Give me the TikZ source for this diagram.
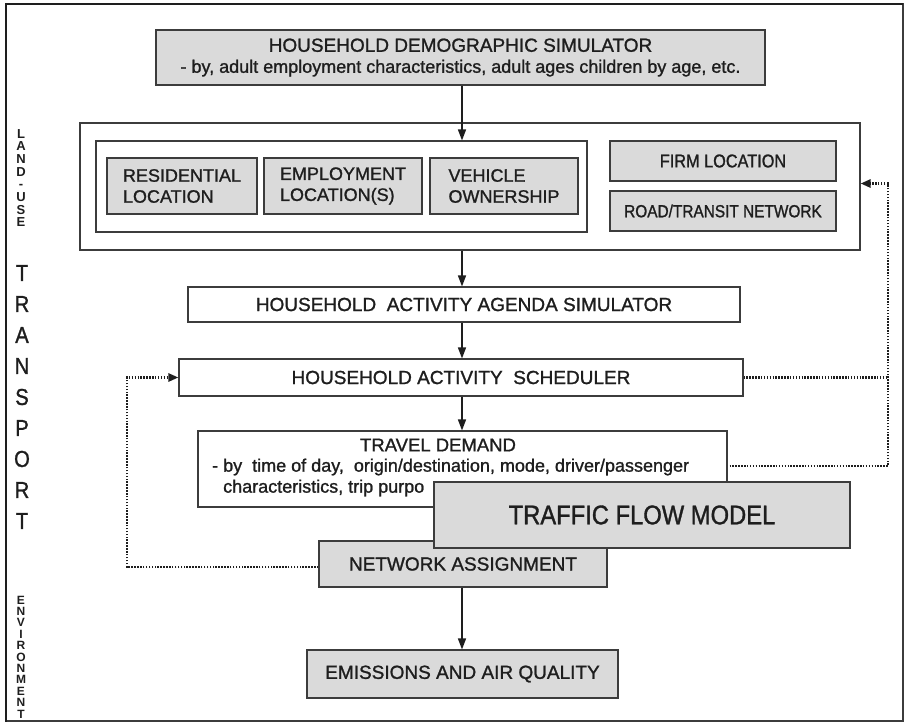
\documentclass[tikz,border=0pt]{standalone}
\usepackage{fontspec}
\setmainfont{Liberation Sans}[FakeBold=1.2]
\newfontfamily\narrowfont{Liberation Sans}[FakeStretch=0.88,FakeBold=1.2]
\newfontfamily\sidefont{Liberation Sans Bold}
\usetikzlibrary{arrows.meta,calc}
\definecolor{boxgray}{RGB}{218,218,218}
\definecolor{ink}{RGB}{30,30,30}
\definecolor{edge}{RGB}{60,60,60}
\tikzset{
  graybox/.style={draw=edge,line width=1.1pt,fill=boxgray,rectangle,inner sep=0pt,text=ink},
  whitebox/.style={draw=edge,line width=1.1pt,fill=white,rectangle,inner sep=0pt,text=ink},
  frame/.style={draw=edge,line width=1.1pt,rectangle,inner sep=0pt},
  arr/.style={draw=ink,line width=1.4pt,-{Triangle[length=11pt,width=8pt]}},
  dots/.style={draw=ink,line width=2.6pt,dash pattern=on 1.5pt off 1.4pt},
  dotarr/.style={dots,-{Triangle[length=10pt,width=8pt]}},
  txt/.style={font=\fontsize{18}{21}\selectfont},
  txtb/.style={font=\fontsize{19}{22}\selectfont},
  vert/.style={inner sep=0pt,align=center,text=ink}
}
\begin{document}
\begin{tikzpicture}[x=1pt,y=-1pt]
\useasboundingbox (0,0) rectangle (906,724);
% outer frame
\draw[draw=edge,line width=1.2pt] (6,4) rectangle (903,721);
\draw[draw=ink,line width=2.4pt] (6,3) -- (6,722);
\draw[draw=ink,line width=2pt] (5,4) -- (903,4);
% spine and return coordinates
\coordinate (spine) at (462,0);
\coordinate (rx) at (888,0);
\coordinate (lx) at (127,0);
% nodes
\node[graybox,minimum width=609pt,minimum height=55pt,align=center,txt] (top) at (460.5,57.5)
  {{\fontsize{19}{22}\selectfont HOUSEHOLD DEMOGRAPHIC SIMULATOR}\\- by, adult employment characteristics, adult ages children by age, etc.};
\node[frame,minimum width=780pt,minimum height=127pt] (landuse) at (470,186.5) {};
\node[frame,minimum width=491pt,minimum height=91pt] (inner) at (341.5,186.5) {};
\node[graybox,minimum width=150pt,minimum height=56pt,align=left,txt] (res) at (182,186) {RESIDENTIAL\\LOCATION};
\node[graybox,minimum width=158pt,minimum height=56pt,align=left,txt] (emp) at (343,186) {EMPLOYMENT\\LOCATION(S)};
\node[graybox,minimum width=148pt,minimum height=56pt,align=left,txt] (veh) at (504,186) {VEHICLE\\OWNERSHIP};
\node[graybox,minimum width=226pt,minimum height=40pt,font=\narrowfont\fontsize{18.5}{21}\selectfont] (firm) at (723,161) {FIRM LOCATION};
\node[graybox,minimum width=226pt,minimum height=40pt,font=\narrowfont\fontsize{17.5}{21}\selectfont] (road) at (723,211) {ROAD/TRANSIT NETWORK};
\node[whitebox,minimum width=552pt,minimum height=35pt,txtb] (agenda) at (464,304.5) {HOUSEHOLD\ \ ACTIVITY AGENDA SIMULATOR};
\node[whitebox,minimum width=564pt,minimum height=37pt,txtb] (sched) at (461,377.5) {HOUSEHOLD ACTIVITY\ \ SCHEDULER};
\node[whitebox,minimum width=529pt,minimum height=76pt] (travel) at (462.5,469) {};
\node[inner sep=0pt,font=\fontsize{18.5}{21}\selectfont,text=ink] (tdhead) at (438,445) {TRAVEL DEMAND};
\node[inner sep=0pt,txt,text=ink,anchor=west] (tdl1) at (212,467) {- by\ \ time of day,\ \ origin/destination, mode, driver/passenger};
\node[inner sep=0pt,txt,text=ink,anchor=west] (tdl2) at (223,488) {characteristics, trip purpo};
\node[graybox,minimum width=288pt,minimum height=46pt,txtb] (network) at (463,564) {NETWORK ASSIGNMENT};
\node[graybox,minimum width=416pt,minimum height=66pt,font=\narrowfont\fontsize{27}{30}\selectfont] (traffic) at (642,515) {TRAFFIC FLOW MODEL};
\node[graybox,minimum width=311pt,minimum height=48pt,txtb] (emis) at (462.5,674) {EMISSIONS AND AIR QUALITY};
% side labels
\node[vert,font=\sidefont\fontsize{13}{12.7}\selectfont] (lu) at (21,178) {L\\A\\N\\D\\-\\U\\S\\E};
\node[vert,font=\narrowfont\fontsize{23}{31}\selectfont] (tr) at (22,397) {T\\R\\A\\N\\S\\P\\O\\R\\T};
\node[vert,font=\sidefont\fontsize{12}{11.4}\selectfont] (env) at (21,657) {E\\N\\V\\I\\R\\O\\N\\M\\E\\N\\T};
% solid arrows
\draw[arr] (spine |- top.south) -- (spine |- inner.north);
\draw[arr] (spine |- landuse.south) -- (spine |- agenda.north);
\draw[arr] (spine |- agenda.south) -- (spine |- sched.north);
\draw[arr] (spine |- sched.south) -- (spine |- travel.north);
\draw[arr] (spine |- network.south) -- (spine |- emis.north);
% dotted feedback
\draw[dots] (sched.east) -- (sched.east -| rx);
\draw[dotarr] ($(travel.east)+(2,-3)$) -- ($(travel.east -| rx)+(0,-3)$) -- ($(rx |- landuse.east)+(0,-3)$) -- ($(landuse.east)+(0,-3)$);
\draw[dotarr] ($(network.west)+(0,3)$) -- ($(network.west -| lx)+(0,3)$) -- (lx |- sched.west) -- (sched.west);
\end{tikzpicture}
\end{document}
